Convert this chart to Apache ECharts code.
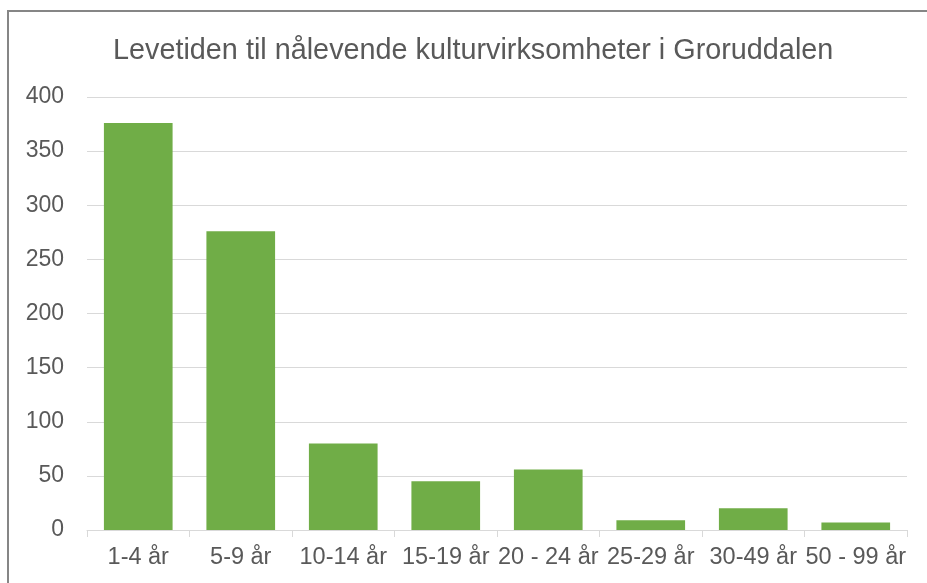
<!DOCTYPE html>
<html>
<head>
<meta charset="utf-8">
<script src="https://cdn.jsdelivr.net/npm/echarts@6/dist/echarts.min.js"></script>
<style>
html,body{margin:0;padding:0;background:#fff;}
#c{width:927px;height:583px;}
</style>
</head>
<body>
<div id="c"></div>
<script>
const titleText = 'Levetiden til nålevende kulturvirksomheter i Groruddalen';
const categories = ['1-4 år', '5-9 år', '10-14 år', '15-19 år', '20 - 24 år', '25-29 år', '30-49 år', '50 - 99 år'];
const values = [376, 276, 80, 45, 56, 9, 20, 7];
const yTicks = { min: 0, max: 400, interval: 50 };

const font = '"Liberation Sans", Arial, sans-serif';
const chart = echarts.init(document.getElementById('c'), null, { renderer: 'canvas' });
chart.setOption({
  animation: false,
  backgroundColor: '#ffffff',
  graphic: [{
    type: 'rect',
    shape: { x: 8, y: 11, width: 1000, height: 700 },
    style: { fill: 'none', stroke: '#868686', lineWidth: 2 },
    silent: true
  }],
  title: {
    text: titleText,
    left: 108,
    top: 32,
    textStyle: { fontFamily: font, fontSize: 28.8, fontWeight: 'normal', color: '#595959' }
  },
  grid: { left: 87, right: 20, top: 97, bottom: 53, containLabel: false },
  xAxis: {
    type: 'category',
    data: categories,
    axisLine: { lineStyle: { color: '#d9d9d9', width: 1 } },
    axisTick: { show: true, length: 7, lineStyle: { color: '#d9d9d9' } },
    axisLabel: { fontFamily: font, fontSize: 23.5, color: '#595959', margin: 16, interval: 0 }
  },
  yAxis: {
    type: 'value',
    min: yTicks.min, max: yTicks.max, interval: yTicks.interval,
    axisLine: { show: false },
    axisTick: { show: false },
    splitLine: { lineStyle: { color: '#d9d9d9', width: 1 } },
    axisLabel: { fontFamily: font, fontSize: 23, color: '#595959', margin: 23 }
  },
  series: [{
    type: 'bar',
    data: values,
    barCategoryGap: '33%',
    itemStyle: { color: '#70ad47' }
  }]
});
</script>
</body>
</html>
